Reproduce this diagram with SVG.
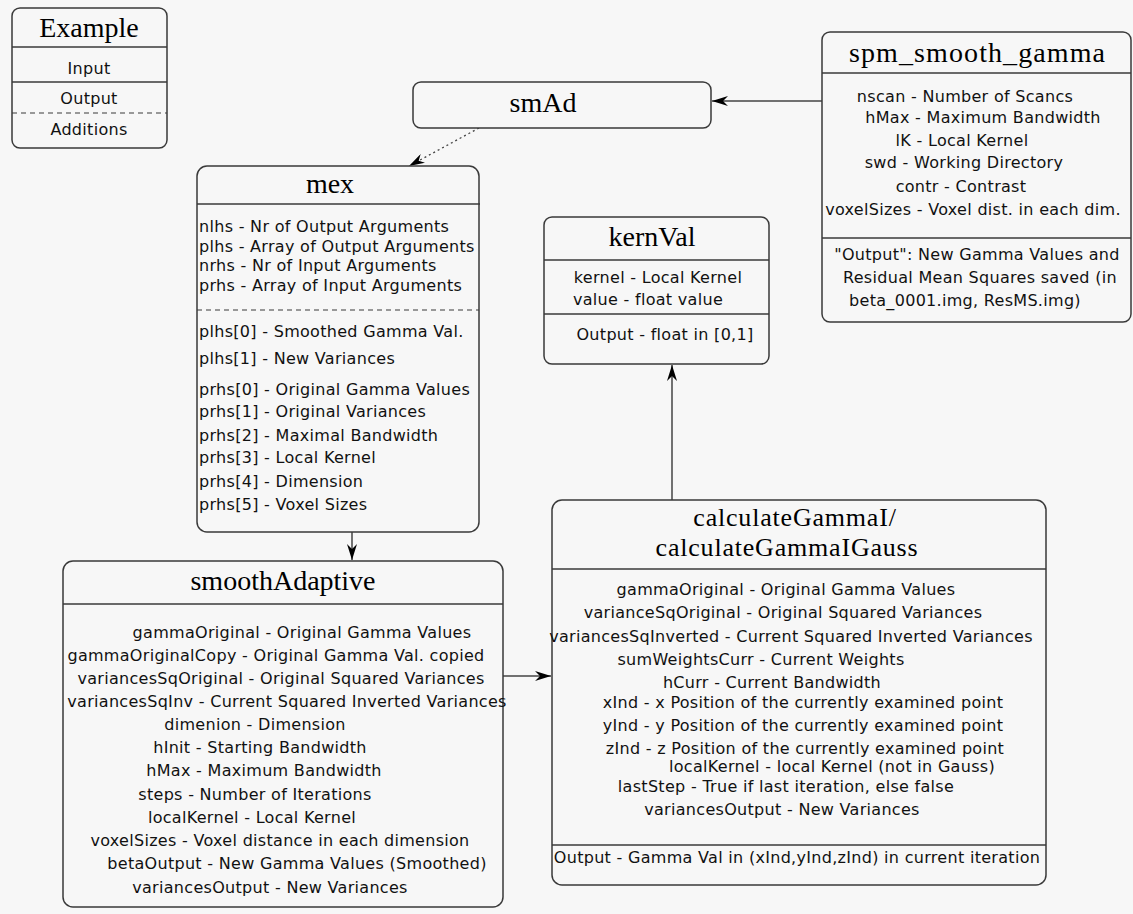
<svg xmlns="http://www.w3.org/2000/svg" width="1133" height="914" viewBox="0 0 1133 914">
<style>
.box{fill:#f7f7f7;stroke:#3a3a3a;stroke-width:1.5}
.div{stroke:#3a3a3a;stroke-width:1.5}
.dash{stroke:#3a3a3a;stroke-width:1.2;stroke-dasharray:5,4}
.t{font-family:"Liberation Serif","Times New Roman",serif;font-size:28px;fill:#000;text-anchor:middle}
.t2{font-size:26px;letter-spacing:0.8px}
.a{font-family:"DejaVu Sans","Noto Sans",sans-serif;font-size:16px;letter-spacing:0.3px;fill:#111;text-anchor:middle}
.l{text-anchor:start}
.c{stroke:#444;stroke-width:1.5;fill:none}
.dot{stroke:#444;stroke-width:1.3;fill:none;stroke-dasharray:2,3}
</style>
<defs>
<marker id="arr" markerUnits="userSpaceOnUse" viewBox="0 0 16 10" refX="16" refY="5" markerWidth="16" markerHeight="10" orient="auto">
<path d="M0,0 L16,5 L0,10 L5,5 Z" fill="#000"/>
</marker>
</defs>
<rect x="0" y="0" width="1133" height="914" fill="#f7f7f7"/>

<g id="connectors">
<line class="c" x1="822" y1="101" x2="712" y2="101" marker-end="url(#arr)"/>
<line class="dot" x1="479" y1="128" x2="409" y2="166" marker-end="url(#arr)"/>
<line class="c" x1="352" y1="532" x2="352" y2="560" marker-end="url(#arr)"/>
<line class="c" x1="672" y1="500" x2="672" y2="365" marker-end="url(#arr)"/>
<line class="c" x1="503" y1="676" x2="551" y2="676" marker-end="url(#arr)"/>
</g>

<g id="example">
<rect class="box" x="12" y="8" width="155" height="140" rx="8"/>
<line class="div" x1="12" y1="47" x2="167" y2="47"/>
<line class="div" x1="12" y1="82" x2="167" y2="82"/>
<line class="dash" x1="12" y1="113" x2="167" y2="113"/>
<text class="t" x="89" y="37">Example</text>
<text class="a" x="89" y="74">Input</text>
<text class="a" x="89" y="104">Output</text>
<text class="a" x="89" y="135">Additions</text>
</g>

<g id="smAd">
<rect class="box" x="413" y="82" width="298" height="46" rx="8"/>
<text class="t" x="543" y="112">smAd</text>
</g>

<g id="spm_smooth_gamma">
<rect class="box" x="822" y="32" width="309" height="290" rx="8"/>
<line class="div" x1="822" y1="73" x2="1131" y2="73"/>
<line class="div" x1="822" y1="238" x2="1131" y2="238"/>
<text class="t" x="977" y="62" textLength="256">spm_smooth_gamma</text>
<text class="a" x="965" y="102">nscan - Number of Scancs</text>
<text class="a" x="983" y="123">hMax - Maximum Bandwidth</text>
<text class="a" x="962" y="146">lK - Local Kernel</text>
<text class="a" x="964" y="168">swd - Working Directory</text>
<text class="a" x="961" y="192">contr - Contrast</text>
<text class="a" x="973" y="215">voxelSizes - Voxel dist. in each dim.</text>
<text class="a" x="977" y="260">"Output": New Gamma Values and</text>
<text class="a" x="980" y="283">Residual Mean Squares saved (in</text>
<text class="a" x="965" y="306">beta_0001.img, ResMS.img)</text>
</g>

<g id="mex">
<rect class="box" x="197" y="166" width="282" height="366" rx="10"/>
<line class="div" x1="197" y1="204" x2="480" y2="204"/>
<line class="dash" x1="197" y1="310" x2="479" y2="310"/>
<text class="t" x="330" y="193">mex</text>
<text class="a l" x="199" y="232">nlhs - Nr of Output Arguments</text>
<text class="a l" x="199" y="252">plhs - Array of Output Arguments</text>
<text class="a l" x="199" y="271">nrhs - Nr of Input Arguments</text>
<text class="a l" x="199" y="291">prhs - Array of Input Arguments</text>
<text class="a l" x="199" y="337">plhs[0] - Smoothed Gamma Val.</text>
<text class="a l" x="199" y="364">plhs[1] - New Variances</text>
<text class="a l" x="199" y="395">prhs[0] - Original Gamma Values</text>
<text class="a l" x="199" y="417">prhs[1] - Original Variances</text>
<text class="a l" x="199" y="441">prhs[2] - Maximal Bandwidth</text>
<text class="a l" x="199" y="463">prhs[3] - Local Kernel</text>
<text class="a l" x="199" y="487">prhs[4] - Dimension</text>
<text class="a l" x="199" y="510">prhs[5] - Voxel Sizes</text>
</g>

<g id="kernVal">
<rect class="box" x="544" y="217" width="225" height="147" rx="8"/>
<line class="div" x1="544" y1="260" x2="769" y2="260"/>
<line class="div" x1="544" y1="314" x2="769" y2="314"/>
<text class="t" x="652" y="246">kernVal</text>
<text class="a" x="658" y="283">kernel - Local Kernel</text>
<text class="a" x="648" y="305">value - float value</text>
<text class="a" x="665" y="340">Output - float in [0,1]</text>
</g>

<g id="smoothAdaptive">
<rect class="box" x="63" y="561" width="440" height="346" rx="10"/>
<line class="div" x1="63" y1="604" x2="503" y2="604"/>
<text class="t" x="283" y="590">smoothAdaptive</text>
<text class="a" x="302" y="638">gammaOriginal - Original Gamma Values</text>
<text class="a" x="276" y="661">gammaOriginalCopy - Original Gamma Val. copied</text>
<text class="a" x="281" y="684">variancesSqOriginal - Original Squared Variances</text>
<text class="a" x="287" y="707">variancesSqInv - Current Squared Inverted Variances</text>
<text class="a" x="255" y="730">dimenion - Dimension</text>
<text class="a" x="260" y="753">hInit - Starting Bandwidth</text>
<text class="a" x="264" y="776">hMax - Maximum Bandwidth</text>
<text class="a" x="255" y="800">steps - Number of Iterations</text>
<text class="a" x="252" y="823">localKernel - Local Kernel</text>
<text class="a" x="280" y="846">voxelSizes - Voxel distance in each dimension</text>
<text class="a" x="297" y="869">betaOutput - New Gamma Values (Smoothed)</text>
<text class="a" x="270" y="893">variancesOutput - New Variances</text>
</g>

<g id="calculateGamma">
<rect class="box" x="552" y="500" width="494" height="385" rx="10"/>
<line class="div" x1="552" y1="569" x2="1046" y2="569"/>
<line class="div" x1="552" y1="845" x2="1046" y2="845"/>
<text class="t t2" x="795" y="526">calculateGammaI/</text>
<text class="t t2" x="787" y="556">calculateGammaIGauss</text>
<text class="a" x="786" y="595">gammaOriginal - Original Gamma Values</text>
<text class="a" x="783" y="618">varianceSqOriginal - Original Squared Variances</text>
<text class="a" x="791" y="642">variancesSqInverted - Current Squared Inverted Variances</text>
<text class="a" x="761" y="665">sumWeightsCurr - Current Weights</text>
<text class="a" x="772" y="688">hCurr - Current Bandwidth</text>
<text class="a" x="803" y="708">xInd - x Position of the currently examined point</text>
<text class="a" x="803" y="731">yInd - y Position of the currently examined point</text>
<text class="a" x="805" y="754">zInd - z Position of the currently examined point</text>
<text class="a" x="832" y="772">localKernel - local Kernel (not in Gauss)</text>
<text class="a" x="786" y="792">lastStep - True if last iteration, else false</text>
<text class="a" x="782" y="815">variancesOutput - New Variances</text>
<text class="a" x="797" y="863">Output - Gamma Val in (xInd,yInd,zInd) in current iteration</text>
</g>
</svg>
